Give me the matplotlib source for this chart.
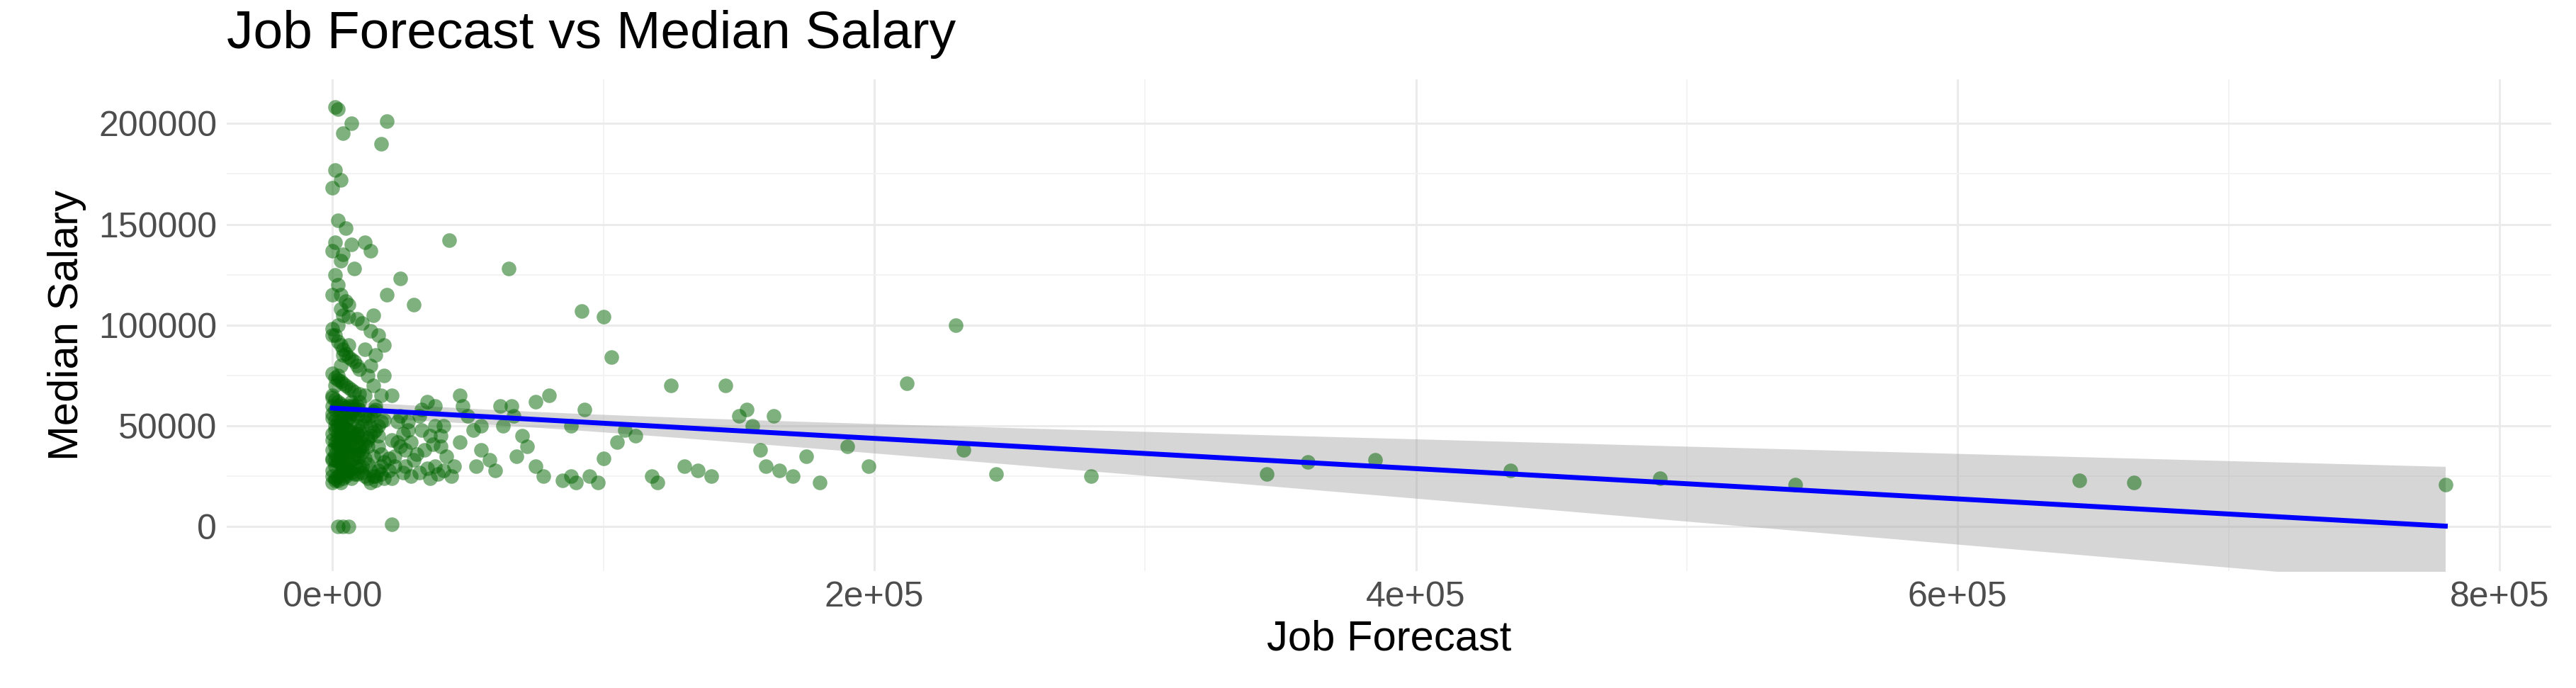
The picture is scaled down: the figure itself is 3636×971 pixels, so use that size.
import matplotlib
matplotlib.use("Agg")
import matplotlib.pyplot as plt
import numpy as np

plt.rcParams["font.family"] = ["Liberation Sans", "DejaVu Sans"]

# (job forecast in thousands, median salary in thousands)
dense_cluster = [
    (1, 208), (2, 207), (4, 195), (7, 200), (1, 177), (3, 172), (0, 168), (2, 152), (5, 148),
    (1, 141), (0, 137), (3, 132), (7, 140), (12, 141), (14, 137), (8, 128), (20, 201), (18, 190),
    (1, 125), (2, 120), (0, 115), (5, 112), (3, 108), (6, 104), (9, 103), (11, 101), (3, 115),
    (4, 135), (0, 98), (1, 95), (2, 92), (3, 90), (4, 88), (5, 86), (6, 84), (7, 83), (8, 82),
    (9, 80), (10, 78), (0, 76), (1, 74), (2, 73), (3, 72), (4, 71), (5, 70), (6, 69), (7, 68),
    (8, 67), (10, 66), (12, 65), (0, 64), (1, 63), (2, 62), (3, 61), (4, 60), (5, 59), (6, 58),
    (7, 57), (8, 56), (9, 55), (0, 54), (1, 53), (2, 52), (3, 51), (4, 50), (5, 49), (6, 48),
    (7, 47), (9, 46), (11, 45), (13, 44), (0, 43), (1, 42), (2, 41), (3, 40), (4, 39), (5, 38),
    (6, 37), (8, 36), (10, 35), (0, 34), (1, 33), (2, 32), (3, 31), (4, 30), (5, 29), (6, 28),
    (7, 27), (9, 26), (0, 25), (1, 24), (2, 23), (3, 22), (4, 24), (5, 26), (6, 28), (8, 30),
    (0, 33), (1, 36), (2, 40), (3, 45), (4, 50), (5, 55), (7, 60), (0, 65), (1, 70), (2, 75),
    (3, 80), (4, 85), (6, 90), (0, 95), (2, 100), (4, 105), (6, 110), (10, 58), (22, 43),
    (5, 45), (8, 60), (20, 115), (28, 52), (33, 48), (38, 60), (10, 62),
    (2, 0), (4, 0), (6, 0), (22, 1),
]
low_band = [
    (0, 22), (1, 23), (2, 25), (3, 27), (4, 28), (5, 30), (6, 31), (7, 33), (8, 34), (9, 36),
    (10, 38), (11, 40), (12, 41), (13, 43), (14, 45), (15, 47), (16, 48), (17, 50), (18, 52),
    (19, 53), (0, 28), (1, 30), (2, 33), (3, 35), (4, 37), (5, 39), (6, 41), (7, 43), (8, 44),
    (9, 46), (10, 48), (11, 50), (12, 52), (13, 54), (14, 55), (15, 57), (16, 58), (17, 40),
    (18, 36), (19, 32), (0, 38), (1, 40), (2, 44), (3, 47), (4, 49), (5, 52), (6, 54), (7, 56),
    (8, 58), (9, 60), (10, 40), (11, 37), (12, 34), (13, 31), (14, 28), (15, 25), (16, 23),
    (17, 28), (18, 26), (19, 24), (0, 46), (1, 48), (2, 50), (3, 53), (4, 56), (5, 58),
    (6, 60), (7, 62), (8, 45), (9, 42), (10, 30), (11, 27), (12, 25), (13, 24), (14, 22),
    (21, 28), (23, 35), (25, 40), (27, 30), (30, 33), (32, 27), (34, 38), (36, 24), (38, 30),
    (40, 45), (24, 52), (26, 46), (29, 42), (31, 36), (35, 29), (37, 41), (39, 26), (41, 50),
    (0, 56), (1, 58), (2, 60), (3, 57), (4, 45), (5, 42), (6, 35), (7, 24), (8, 26), (9, 29),
    (0, 60), (1, 50), (2, 46), (3, 38), (4, 33), (5, 25), (6, 45), (7, 52), (8, 40), (9, 50),
]
spread = [
    (15, 105), (17, 95), (19, 90), (16, 85), (14, 80), (13, 75), (15, 70), (18, 65), (16, 60),
    (12, 55), (14, 50), (17, 45), (13, 40), (15, 35), (11, 30), (16, 25), (18, 30), (14, 97),
    (12, 88), (19, 75), (22, 65), (25, 55), (28, 48), (24, 42), (27, 38), (21, 34), (23, 30),
    (26, 27), (29, 25), (22, 24), (25, 123), (30, 110), (33, 58), (35, 62), (32, 55), (38, 50),
    (36, 45), (40, 40), (42, 35), (45, 30), (41, 28), (44, 25), (48, 60), (50, 55), (52, 48),
    (47, 42), (55, 38), (58, 33), (53, 30), (60, 28), (62, 60), (65, 128), (67, 55), (63, 50),
    (70, 45), (72, 40), (68, 35), (75, 30), (78, 25), (80, 65), (85, 23), (88, 25), (90, 22),
    (92, 107), (95, 25), (98, 22), (100, 104), (103, 84), (108, 48), (112, 45), (118, 25),
    (120, 22), (125, 70), (130, 30), (135, 28), (140, 25), (145, 70), (150, 55), (155, 50),
    (160, 30), (165, 28), (170, 25), (175, 35), (180, 22), (190, 40), (198, 30), (212, 71),
    (230, 100), (233, 38), (245, 26), (280, 25), (43, 142), (153, 58), (158, 38), (163, 55),
    (66, 60), (75, 62), (88, 50), (93, 58), (100, 34), (105, 42), (55, 50), (47, 65),
]
far_points = [
    (345, 26), (360, 32), (385, 33), (435, 28), (490, 24), (540, 21), (645, 23),
    (665, 22), (780, 21),
]

pts = np.array(dense_cluster + low_band + spread + far_points, dtype=float) * 1000.0
x, y = pts[:, 0], pts[:, 1]

fig, ax = plt.subplots(figsize=(36.37, 9.71), dpi=100)
fig.subplots_adjust(left=0.088, right=0.99, top=0.885, bottom=0.17)

ax.scatter(x, y, s=220, color="darkgreen", alpha=0.5, linewidths=0, zorder=3)

# linear fit with 95% confidence band
n = len(x)
b, a = np.polyfit(x, y, 1)
xs = np.linspace(x.min(), x.max(), 200)
yhat = a + b * xs
resid = y - (a + b * x)
s = np.sqrt(np.sum(resid ** 2) / (n - 2))
se = s * np.sqrt(1 / n + (xs - x.mean()) ** 2 / np.sum((x - x.mean()) ** 2))
ax.fill_between(xs, yhat - 1.97 * se, yhat + 1.97 * se, color="#999999", alpha=0.4,
                linewidth=0, zorder=2)
ax.plot(xs, yhat, color="blue", lw=5, zorder=4)

ax.set_xlim(-39000, 819000)
ax.set_ylim(-22000, 222000)
ax.set_xticks([0, 2e5, 4e5, 6e5, 8e5], ["0e+00", "2e+05", "4e+05", "6e+05", "8e+05"])
ax.set_xticks([1e5, 3e5, 5e5, 7e5], minor=True)
ax.set_yticks([0, 50000, 100000, 150000, 200000],
              ["0", "50000", "100000", "150000", "200000"])
ax.set_yticks([25000, 75000, 125000, 175000], minor=True)
ax.grid(which="major", color="#EBEBEB", lw=2.2)
ax.grid(which="minor", color="#F2F2F2", lw=1.3)
ax.set_axisbelow(True)
for sp in ax.spines.values():
    sp.set_visible(False)
ax.tick_params(which="both", length=0, labelsize=36, labelcolor="#4D4D4D", pad=10)

ax.set_xlabel("Job Forecast", fontsize=43, labelpad=6)
ax.set_ylabel("Median Salary", fontsize=43, labelpad=12)
fig.text(0.088, 0.915, "Job Forecast vs Median Salary", fontsize=54, ha="left", va="bottom")

fig.savefig("out.png", dpi=100)
